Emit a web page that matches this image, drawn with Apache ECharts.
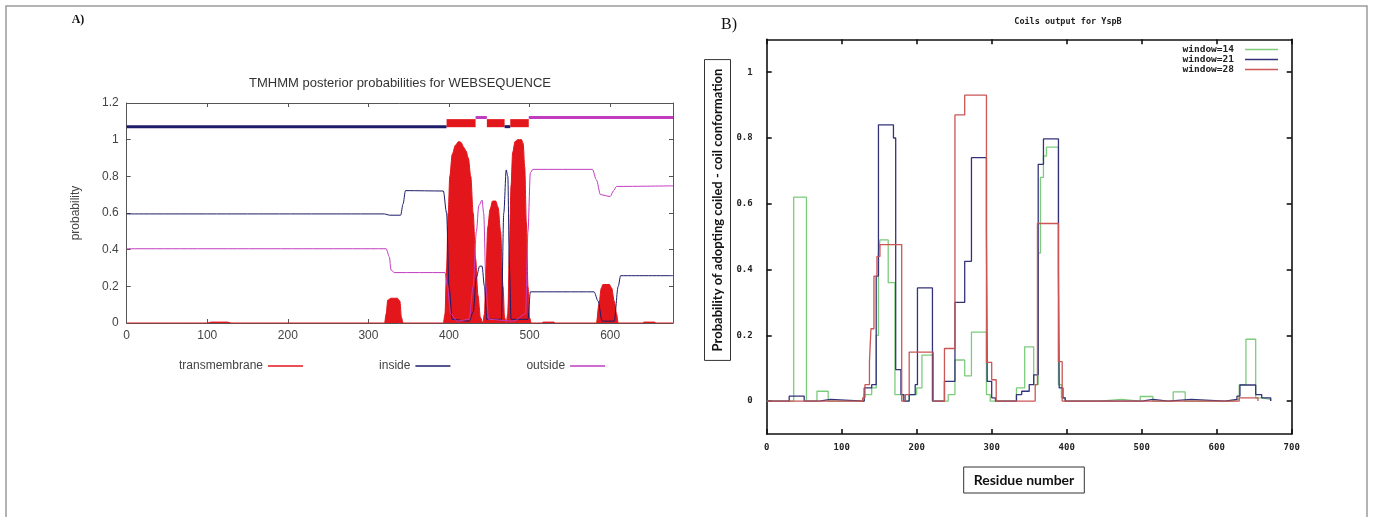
<!DOCTYPE html>
<html>
<head>
<meta charset="utf-8">
<script src="https://cdn.jsdelivr.net/npm/echarts@6/dist/echarts.min.js"></script>
<style>
html,body{margin:0;padding:0;background:#fff;}
#chart{width:1373px;height:517px;}
</style>
</head>
<body>
<div id="chart"></div>
<script>
// ---------- Panel A : TMHMM posterior probabilities ----------
const tmhmmXTicks = [0, 100, 200, 300, 400, 500, 600];
const transmembrane = [
  [0,0],[100,0],[105,0.005],[125,0.005],[130,0],[320,0],[322,0.05],[324,0.125],[328,0.135],[336,0.135],
  [339,0.12],[341,0.03],[343,0],[393,0],[395,0.05],[397,0.3],[399,0.6],[401,0.8],[404,0.92],[408,0.97],
  [412,0.99],[415,0.985],[418,0.96],[421,0.94],[424,0.9],[427,0.8],[430,0.6],[433,0.35],[436,0.15],
  [439,0.03],[442,0],[444,0.05],[446,0.3],[448,0.52],[451,0.62],[454,0.665],[458,0.665],[461,0.63],
  [464,0.5],[467,0.2],[469,0.03],[471,0],[473,0.05],[475,0.4],[477,0.75],[479,0.93],[482,0.99],[485,1.0],
  [490,1.0],[492,0.98],[494,0.85],[496,0.55],[498,0.2],[500,0.03],[502,0],[515,0],[517,0.005],[530,0.005],
  [532,0],[583,0],[586,0.1],[589,0.19],[591,0.21],[599,0.21],[602,0.19],[605,0.12],[608,0.05],[610,0],
  [640,0],[642,0.005],[655,0.005],[657,0],[678,0]
];
const inside = [
  [0,0.595],[320,0.595],[326,0.588],[340,0.588],[343,0.65],[346,0.722],[393,0.72],[397,0.6],[400,0.2],
  [404,0.02],[425,0.01],[430,0.06],[434,0.25],[438,0.31],[441,0.31],[444,0.2],[447,0.02],[465,0.02],
  [468,0.6],[471,0.835],[473,0.8],[475,0.3],[477,0.02],[498,0.02],[501,0.17],[580,0.17],[585,0.12],
  [590,0.01],[605,0.01],[610,0.2],[613,0.258],[678,0.258]
];
const outside = [
  [0,0.405],[322,0.405],[326,0.36],[328,0.29],[332,0.275],[395,0.275],[398,0.2],[402,0.05],[410,0.01],
  [425,0.02],[430,0.2],[434,0.5],[437,0.64],[441,0.67],[443,0.6],[446,0.2],[449,0.02],[480,0.01],
  [495,0.05],[498,0.5],[501,0.82],[504,0.838],[578,0.838],[583,0.78],[588,0.7],[600,0.69],[604,0.72],
  [608,0.745],[678,0.748]
];
// predicted topology: [start, end, kind]  kind 0 = inside, 1 = TM helix, 2 = outside
const topology = [
  [0,397,0],[397,433,1],[433,447,2],[447,469,1],[469,476,0],[476,499,1],[499,678,2]
];

// ---------- Panel B : COILS output ----------
const coilsYTicks = [0, 0.2, 0.4, 0.6, 0.8, 1];
const window14 = [
  [0,0],[36,0.62],[53,0],[67,0.03],[82,0],[130,0.02],[140,0.04],[146,0.2],[149,0.45],[151,0.49],
  [162,0.36],[171,0.02],[182,0],[190,0.02],[200,0.04],[207,0.14],[222,0],[242,0.02],[251,0.125],
  [264,0.077],[273,0.21],[293,0.02],[298,0],[333,0.04],[344,0.165],[356,0.05],[362,0.45],[365,0.68],
  [369,0.745],[373,0.772],[389,0.05],[393,0.01],[398,0],[444,0.005],[473,0],[498,0.014],[515,0],
  [542,0.028],[558,0],[620,0.005],[630,0.05],[639,0.188],[652,0.01],[660,0.005],[672,0]
];
const window21 = [
  [0,0],[30,0.015],[50,0],[70,0.005],[85,0],[130,0.04],[140,0.05],[146,0.38],[149,0.84],[169,0.8],
  [172,0.096],[179,0.02],[183,0],[190,0.02],[198,0.05],[201,0.344],[221,0],[237,0.06],[251,0.3],
  [264,0.425],[273,0.74],[293,0.52],[294,0.06],[300,0.01],[305,0],[333,0.02],[340,0.03],[350,0.05],
  [356,0.08],[362,0.72],[369,0.797],[389,0.4],[390,0.04],[395,0.01],[398,0],[500,0.005],[515,0],
  [535,0.005],[566,0],[611,0.005],[627,0.015],[631,0.049],[652,0.02],[660,0.01],[672,0]
];
const window28 = [
  [0,0],[128,0.01],[131,0.05],[137,0.12],[139,0.22],[143,0.38],[147,0.44],[151,0.476],[180,0],
  [185,0.02],[190,0.149],[222,0],[237,0.16],[251,0.87],[264,0.93],[293,0.118],[300,0.065],[306,0],
  [358,0.05],[361,0.54],[389,0.12],[394,0],[630,0.01],[655,0]
];

const RED = '#e3161b', NAVY = '#1c1c6b', MAG = '#c03cc0';
const G14 = '#7ccc7c', N21 = '#33337a', R28 = '#cc5555';

const chart = echarts.init(document.getElementById('chart'));

const axA = {
  axisLine: {show: true, onZero: false, lineStyle: {color: '#555', width: 1}},
  axisTick: {show: true, inside: true, length: 4, lineStyle: {color: '#555'}},
  splitLine: {show: false}
};
const axB = {
  axisLine: {show: true, onZero: false, lineStyle: {color: '#111', width: 1.6}},
  axisTick: {show: true, inside: true, length: 5, lineStyle: {color: '#111', width: 1.6}},
  splitLine: {show: false}
};
const labA = {fontFamily: 'Liberation Sans', fontSize: 12, color: '#444'};
const labB = {fontFamily: 'DejaVu Sans Mono', fontWeight: 'bold', fontSize: 9, color: '#222'};

function topoItem(params, api) {
  const s = api.value(0), e = api.value(1), k = api.value(2);
  if (k === 1) {
    const p1 = api.coord([s, 1.112]);
    const p2 = api.coord([e, 1.068]);
    return {type: 'rect', shape: {x: p1[0], y: p1[1], width: p2[0] - p1[0], height: p2[1] - p1[1]},
            style: {fill: RED}};
  }
  const lvl = k === 0 ? 1.071 : 1.121;
  const a = api.coord([s, lvl]), b = api.coord([e, lvl]);
  return {type: 'line', shape: {x1: a[0], y1: a[1], x2: b[0], y2: b[1]},
          style: {stroke: k === 0 ? NAVY : MAG, lineWidth: 3}};
}

const option = {
  backgroundColor: '#fff',
  animation: false,
  title: [
    {text: 'TMHMM posterior probabilities for WEBSEQUENCE', left: 400, top: 77, textAlign: 'center', padding: 0,
     textStyle: {fontFamily: 'Liberation Sans', fontSize: 13, fontWeight: 'normal', color: '#333'}},
    {text: 'Coils output for YspB', left: 1068, top: 17, textAlign: 'center', padding: 0,
     textStyle: {fontFamily: 'DejaVu Sans Mono', fontSize: 8.5, fontWeight: 'bold', color: '#222'}}
  ],
  legend: [
    {data: ['transmembrane', 'inside', 'outside'], left: 179, top: 360, orient: 'horizontal', padding: 0,
     align: 'right', icon: 'rect', itemWidth: 35, itemHeight: 1.5, itemGap: 76, selectedMode: false,
     textStyle: {fontFamily: 'Liberation Sans', fontSize: 12, color: '#444'}},
    {data: ['window=14', 'window=21', 'window=28'], right: 95, top: 44.5, orient: 'vertical', padding: 0,
     align: 'right', icon: 'rect', itemWidth: 33, itemHeight: 1.5, itemGap: 0, selectedMode: false,
     textStyle: {fontFamily: 'DejaVu Sans Mono', fontWeight: 'bold', fontSize: 9.5, color: '#222',
     lineHeight: 9, padding: [0, 6, 0, 0]}}
  ],
  grid: [
    {left: 126.7, top: 103, width: 546.3, height: 220, show: false},
    {left: 766.7, top: 39.3, width: 525, height: 394.7, show: false}
  ],
  xAxis: [
    Object.assign({gridIndex: 0, type: 'value', position: 'bottom', min: 0, max: 678,
      axisLabel: Object.assign({margin: 7, customValues: tmhmmXTicks}, labA)}, axA,
      {axisTick: Object.assign({}, axA.axisTick, {customValues: tmhmmXTicks})}),
    Object.assign({gridIndex: 0, type: 'value', position: 'top', min: 0, max: 678,
      axisLabel: {show: false}}, axA,
      {axisTick: Object.assign({}, axA.axisTick, {customValues: tmhmmXTicks})}),
    Object.assign({gridIndex: 1, type: 'value', position: 'bottom', min: 0, max: 700, interval: 100,
      axisLabel: Object.assign({margin: 9}, labB)}, axB),
    Object.assign({gridIndex: 1, type: 'value', position: 'top', min: 0, max: 700, interval: 100,
      axisLabel: {show: false}}, axB)
  ],
  yAxis: [
    Object.assign({gridIndex: 0, type: 'value', position: 'left', min: 0, max: 1.2, interval: 0.2,
      name: 'probability', nameLocation: 'middle', nameGap: 45,
      nameTextStyle: {fontFamily: 'Liberation Sans', fontSize: 12, color: '#444'},
      axisLabel: Object.assign({margin: 8}, labA)}, axA),
    Object.assign({gridIndex: 0, type: 'value', position: 'right', min: 0, max: 1.2, interval: 0.2,
      axisLabel: {show: false}}, axA),
    Object.assign({gridIndex: 1, type: 'value', position: 'left', min: -0.1, max: 1.1,
      axisLabel: Object.assign({margin: 14, customValues: coilsYTicks}, labB)}, axB,
      {axisTick: Object.assign({}, axB.axisTick, {customValues: coilsYTicks})}),
    Object.assign({gridIndex: 1, type: 'value', position: 'right', min: -0.1, max: 1.1,
      axisLabel: {show: false}}, axB,
      {axisTick: Object.assign({}, axB.axisTick, {customValues: coilsYTicks})})
  ],
  series: [
    {name: 'transmembrane', type: 'line', xAxisIndex: 0, yAxisIndex: 0, data: transmembrane,
     symbol: 'none', smooth: 0.3, smoothMonotone: 'x', color: RED,
     lineStyle: {color: RED, width: 1}, areaStyle: {color: RED, opacity: 1}},
    {name: 'inside', type: 'line', xAxisIndex: 0, yAxisIndex: 0, data: inside,
     symbol: 'none', smooth: 0.3, smoothMonotone: 'x', color: NAVY, lineStyle: {color: NAVY, width: 1}},
    {name: 'outside', type: 'line', xAxisIndex: 0, yAxisIndex: 0, data: outside,
     symbol: 'none', smooth: 0.3, smoothMonotone: 'x', color: MAG, lineStyle: {color: MAG, width: 1}},
    {name: 'topology', type: 'custom', xAxisIndex: 0, yAxisIndex: 0, data: topology,
     encode: {x: [0, 1]}, renderItem: topoItem, silent: true},
    {name: 'window=14', type: 'line', xAxisIndex: 2, yAxisIndex: 2, data: window14, step: 'end',
     symbol: 'none', color: G14, lineStyle: {color: G14, width: 1.3}},
    {name: 'window=21', type: 'line', xAxisIndex: 2, yAxisIndex: 2, data: window21, step: 'end',
     symbol: 'none', color: N21, lineStyle: {color: N21, width: 1.3}},
    {name: 'window=28', type: 'line', xAxisIndex: 2, yAxisIndex: 2, data: window28, step: 'end',
     symbol: 'none', color: R28, lineStyle: {color: R28, width: 1.3}}
  ],
  graphic: [
    {type: 'rect', silent: true, z: -10, shape: {x: 6, y: 6, width: 1361, height: 530},
     style: {fill: null, stroke: '#9a9a9a', lineWidth: 1.5}},
    {type: 'text', x: 78, y: 20, style: {text: 'A)', font: 'bold 12px "Liberation Serif"', fill: '#111',
     align: 'center', verticalAlign: 'middle'}},
    {type: 'text', x: 729, y: 25, style: {text: 'B)', font: '16px "Liberation Serif"', fill: '#111',
     align: 'center', verticalAlign: 'middle'}},
    {type: 'text', x: 717.5, y: 210, rotation: Math.PI / 2,
     style: {text: 'Probability of adopting coiled - coil conformation', font: 'bold 13px Lato',
     fill: '#111', align: 'center', verticalAlign: 'middle', borderColor: '#333', borderWidth: 1,
     padding: [7, 9, 6, 9]}},
    {type: 'text', x: 1024, y: 480,
     style: {text: 'Residue number', font: 'bold 14px Lato', fill: '#111', align: 'center',
     verticalAlign: 'middle', borderColor: '#333', borderWidth: 1, padding: [6, 10, 6, 10]}}
  ]
};
chart.setOption(option);
</script>
</body>
</html>
